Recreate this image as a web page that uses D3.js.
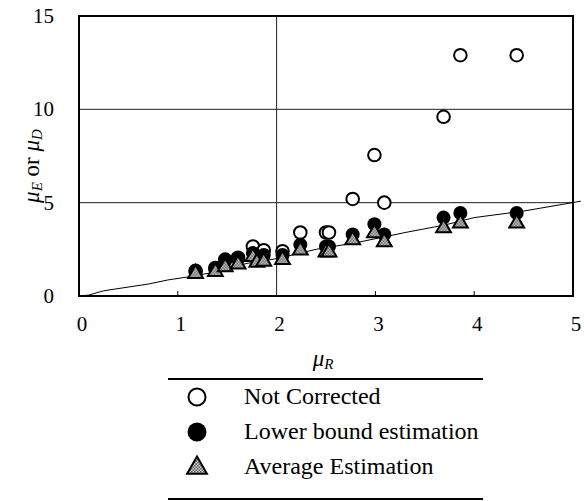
<!DOCTYPE html>
<html>
<head>
<meta charset="utf-8">
<script src="https://cdn.jsdelivr.net/npm/d3@7"></script>
<style>
  body { margin: 0; background: #fff; }
</style>
</head>
<body>
<script>
const width = 584;
const height = 501;
const serif = "'Liberation Serif', 'DejaVu Serif', serif";

// measured values (mu_R on x)
const muR          = [1.18, 1.38, 1.48, 1.61, 1.76, 1.80, 1.87, 2.06, 2.24, 2.50, 2.53, 2.77, 2.99, 3.09, 3.69, 3.86, 4.43];
const notCorrected = [1.35, 1.50, 1.95, 2.05, 2.65, 2.20, 2.45, 2.40, 3.40, 3.40, 3.40, 5.20, 7.55, 5.00, 9.60, 12.90, 12.90];
const lowerBound   = [1.28, 1.45, 1.90, 2.00, 2.30, 2.00, 2.20, 2.20, 2.75, 2.65, 2.65, 3.30, 3.85, 3.30, 4.20, 4.45, 4.45];
const average      = [1.20, 1.30, 1.55, 1.70, 2.10, 1.80, 1.85, 1.95, 2.45, 2.35, 2.35, 3.00, 3.37, 2.90, 3.64, 3.90, 3.90];

// reference curve
const curveX = [0, 0.10, 0.25, 0.70, 0.90, 1.10, 1.40, 1.70, 2.00, 2.40, 2.80, 3.30, 3.70, 4.00, 4.50, 5.08];
const curveY = [0, 0.05, 0.28, 0.64, 0.86, 1.02, 1.30, 1.75, 2.00, 2.50, 2.85, 3.40, 3.80, 4.20, 4.55, 5.08];

const xTicks = [0, 1, 2, 3, 4, 5];
const yTicks = [0, 5, 10, 15];
const xGrid = [2];
const yGrid = [5, 10];
const legendItems = ["Not Corrected", "Lower bound estimation", "Average Estimation"];

const svg = d3.select("body").append("svg")
  .attr("width", width)
  .attr("height", height)
  .attr("font-family", serif);

const x = d3.scaleLinear().domain([0, 5]).range([79, 573]);
const y = d3.scaleLinear().domain([0, 15]).range([296, 16]);

// hatched fill for triangles
const pat = svg.append("defs").append("pattern")
  .attr("id", "hatch")
  .attr("patternUnits", "userSpaceOnUse")
  .attr("width", 3).attr("height", 3);
pat.append("rect").attr("width", 3).attr("height", 3).attr("fill", "#d8d8d8");
pat.append("rect").attr("width", 1.5).attr("height", 1.5).attr("fill", "#555");
pat.append("rect").attr("x", 1.5).attr("y", 1.5).attr("width", 1.5).attr("height", 1.5).attr("fill", "#555");

// grid
svg.selectAll(".yg").data(yGrid).enter().append("line")
  .attr("x1", x(0)).attr("x2", x(5))
  .attr("y1", d => y(d)).attr("y2", d => y(d))
  .attr("stroke", "#222").attr("stroke-width", 1);
svg.selectAll(".xg").data(xGrid).enter().append("line")
  .attr("x1", d => x(d)).attr("x2", d => x(d))
  .attr("y1", y(0)).attr("y2", y(15))
  .attr("stroke", "#222").attr("stroke-width", 1);

// small inner ticks along bottom
svg.selectAll(".xt").data([1, 3, 4]).enter().append("line")
  .attr("x1", d => x(d)).attr("x2", d => x(d))
  .attr("y1", y(0)).attr("y2", y(0) - 5)
  .attr("stroke", "#000").attr("stroke-width", 1);

// frame
svg.append("rect")
  .attr("x", x(0)).attr("y", y(15))
  .attr("width", x(5) - x(0)).attr("height", y(0) - y(15))
  .attr("fill", "none").attr("stroke", "#000").attr("stroke-width", 2);

// tick labels
svg.selectAll(".xl").data(xTicks).enter().append("text")
  .attr("x", d => x(d) + 3).attr("y", 331)
  .attr("text-anchor", "middle")
  .attr("font-size", 21)
  .text(d => d);
svg.selectAll(".yl").data(yTicks).enter().append("text")
  .attr("x", 54).attr("y", d => y(d) + 7)
  .attr("text-anchor", "end")
  .attr("font-size", 21)
  .text(d => d);

// reference curve
const pts = curveX.map((v, i) => [v, curveY[i]]);
svg.append("path")
  .attr("d", d3.line().x(d => x(d[0])).y(d => y(d[1]))(pts))
  .attr("fill", "none").attr("stroke", "#000").attr("stroke-width", 1);

// markers
svg.selectAll(".nc").data(muR).enter().append("circle")
  .attr("cx", d => x(d)).attr("cy", (d, i) => y(notCorrected[i]))
  .attr("r", 6.3).attr("fill", "#fff").attr("stroke", "#000").attr("stroke-width", 2);
svg.selectAll(".lb").data(muR).enter().append("circle")
  .attr("cx", d => x(d)).attr("cy", (d, i) => y(lowerBound[i]))
  .attr("r", 7).attr("fill", "#000");
const tri = d3.symbol().type(d3.symbolTriangle).size(95);
svg.selectAll(".av").data(muR).enter().append("path")
  .attr("d", tri)
  .attr("transform", (d, i) => "translate(" + x(d) + "," + y(average[i]) + ")")
  .attr("fill", "url(#hatch)").attr("stroke", "#000").attr("stroke-width", 2);

// axis titles
const xt = svg.append("text").attr("x", 323).attr("y", 366)
  .attr("text-anchor", "middle").attr("font-size", 23);
xt.append("tspan").attr("font-style", "italic").text("μ");
xt.append("tspan").attr("font-style", "italic").attr("font-size", 15).attr("dy", 3).text("R");

const yt = svg.append("text")
  .attr("transform", "translate(39,166) rotate(-90)")
  .attr("text-anchor", "middle").attr("font-size", 23);
yt.append("tspan").attr("font-style", "italic").text("μ");
yt.append("tspan").attr("font-style", "italic").attr("font-size", 15).attr("dy", 3).text("E");
yt.append("tspan").attr("dy", -3).text(" or ");
yt.append("tspan").attr("font-style", "italic").text("μ");
yt.append("tspan").attr("font-style", "italic").attr("font-size", 15).attr("dy", 3).text("D");

// legend
svg.append("line").attr("x1", 168).attr("x2", 483).attr("y1", 379).attr("y2", 379)
  .attr("stroke", "#000").attr("stroke-width", 2);
svg.append("line").attr("x1", 168).attr("x2", 483).attr("y1", 499).attr("y2", 499)
  .attr("stroke", "#000").attr("stroke-width", 2);

const rowY = d3.scalePoint().domain(legendItems).range([397, 467]);
svg.append("circle").attr("cx", 197).attr("cy", rowY(legendItems[0]))
  .attr("r", 8.5).attr("fill", "#fff").attr("stroke", "#000").attr("stroke-width", 2);
svg.append("circle").attr("cx", 197).attr("cy", rowY(legendItems[1]))
  .attr("r", 9.5).attr("fill", "#000");
svg.append("path").attr("d", d3.symbol().type(d3.symbolTriangle).size(170)())
  .attr("transform", "translate(197," + (rowY(legendItems[2]) + 1) + ")")
  .attr("fill", "url(#hatch)").attr("stroke", "#000").attr("stroke-width", 2);

svg.selectAll(".lg").data(legendItems).enter().append("text")
  .attr("x", 244).attr("y", d => rowY(d) + 7)
  .attr("font-size", 24)
  .text(d => d);
</script>
</body>
</html>
